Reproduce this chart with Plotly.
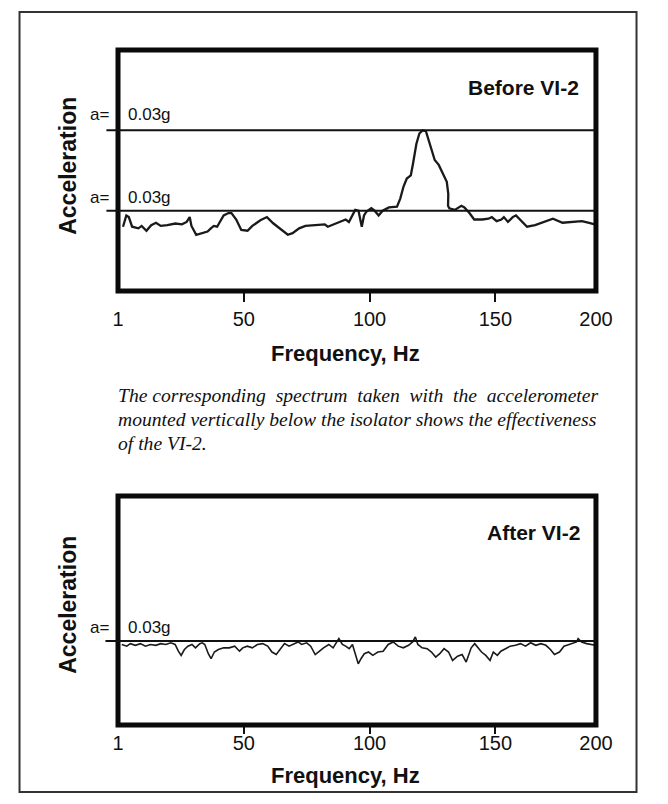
import plotly.graph_objects as go

# ---------------- data ----------------
# Before VI-2 : frequency (Hz) and relative acceleration (lower reference line = 1, peak line = 2)
before_hz = [2.0, 3.3, 4.3, 5.6, 8.1, 9.4, 11.3, 13.2, 15.1, 17.0, 19.6, 22.8, 25.4, 27.3, 28.5, 29.2,
             31.1, 33.6, 35.6, 36.9, 38.1, 39.4, 42.0, 43.9, 45.1, 47.0, 49.0, 51.5, 53.4, 56.6, 59.2,
             61.8, 64.3, 67.5, 69.4, 72.0, 74.5, 78.4, 82.2, 83.4, 87.3, 90.5, 91.8, 93.7, 94.3, 95.6,
             96.9, 97.8, 98.8, 100.7, 102.0, 103.6, 105.2, 107.7, 110.9, 112.2, 113.5, 114.8, 116.4,
             117.3, 118.6, 119.8, 121.1, 122.4, 123.7, 124.6, 125.9, 127.5, 129.2, 130.7, 131.3, 131.2,
             131.7, 133.9, 136.5, 137.7, 139.7, 141.6, 144.8, 147.3, 148.6, 150.5, 152.4, 153.4, 155.0,
             156.9, 158.2, 160.1, 162.6, 165.8, 169.0, 172.9, 176.7, 180.5, 184.4, 186.9, 189.5]
before_acc = [0.80, 0.94, 0.92, 0.80, 0.78, 0.81, 0.75, 0.82, 0.85, 0.81, 0.82, 0.84, 0.83, 0.86, 0.92, 0.81,
              0.70, 0.72, 0.74, 0.78, 0.81, 0.80, 0.94, 0.97, 0.97, 0.89, 0.76, 0.75, 0.81, 0.88, 0.92,
              0.84, 0.78, 0.70, 0.72, 0.78, 0.81, 0.82, 0.83, 0.80, 0.85, 0.89, 0.86, 0.97, 1.01, 1.00,
              0.80, 0.94, 0.99, 1.03, 1.00, 0.94, 1.00, 1.04, 1.05, 1.15, 1.30, 1.40, 1.44,
              1.59, 1.83, 1.96, 2.00, 1.99, 1.85, 1.75, 1.63, 1.57, 1.46, 1.36, 1.21, 1.06,
              1.03, 1.01, 1.06, 1.04, 0.97, 0.89, 0.89, 0.90, 0.92, 0.87, 0.89, 0.92, 0.86,
              0.92, 0.94, 0.88, 0.80, 0.82, 0.86, 0.90, 0.85, 0.86, 0.87, 0.85, 0.83]

# After VI-2
after_hz = [1.5, 3.5, 4.9, 6.9, 8.9, 10.9, 12.9, 15.0, 17.0, 19.0, 21.0, 22.7, 24.0, 25.1, 26.4, 27.8,
            29.4, 30.8, 32.5, 33.5, 34.5, 35.9, 37.0, 38.3, 39.9, 42.0, 44.2, 46.4, 48.3, 49.6, 51.4,
            53.4, 55.4, 57.5, 59.5, 61.2, 62.9, 64.5, 66.2, 68.0, 69.6, 71.6, 73.0, 75.0, 76.6, 78.4,
            80.1, 81.7, 83.8, 85.5, 87.8, 89.2, 90.5, 91.9, 93.2, 94.6, 95.5, 96.6, 97.9, 99.6, 101.3,
            103.3, 105.4, 107.4, 109.4, 111.4, 113.4, 115.5, 117.1, 118.2, 119.2, 120.9, 122.9, 124.6,
            126.3, 127.9, 129.6, 131.4, 133.0, 135.0, 136.8, 138.4, 140.4, 141.8, 143.1, 144.5, 146.2,
            147.9, 149.2, 150.8, 152.2, 153.9, 155.9, 158.0, 160.0, 162.0, 164.0, 166.1, 168.1, 170.1,
            171.9, 173.5, 175.5, 177.3, 179.2, 180.9, 182.3, 182.9, 184.3, 186.3, 188.3, 189.7]
after_acc = [0.96, 0.94, 0.97, 0.95, 0.97, 0.94, 0.96, 0.95, 0.97, 0.96, 0.98, 0.96, 0.88, 0.83, 0.90, 0.94,
             0.96, 0.92, 0.97, 0.98, 0.96, 0.85, 0.79, 0.87, 0.90, 0.92, 0.92, 0.94, 0.88, 0.92, 0.94,
             0.92, 0.96, 0.97, 0.94, 0.87, 0.84, 0.90, 0.97, 0.94, 0.96, 0.99, 0.96, 0.98, 0.94, 0.84,
             0.88, 0.92, 0.96, 0.92, 1.03, 0.96, 0.94, 0.91, 0.96, 0.83, 0.73, 0.79, 0.85, 0.87, 0.83,
             0.87, 0.88, 0.96, 0.99, 0.94, 0.92, 0.95, 0.99, 1.05, 0.96, 0.92, 0.91, 0.87,
             0.81, 0.85, 0.91, 0.87, 0.77, 0.82, 0.84, 0.75, 0.92, 0.97, 0.92, 0.87, 0.83,
             0.77, 0.87, 0.83, 0.88, 0.91, 0.94, 0.95, 0.97, 0.94, 0.98, 0.95, 0.97, 0.95,
             0.90, 0.84, 0.87, 0.94, 0.96, 0.97, 0.99, 1.03, 0.99, 0.97, 0.96, 0.95]

tick_vals = [0, 50, 100, 150, 190]
tick_text = ["1", "50", "100", "150", "200"]
minor_ticks = [50, 100, 150]
ref_before = [2.0, 1.0]
ref_after = [1.0]
ref_label = "0.03g"

caption = ["The corresponding\u00a0 spectrum\u00a0 taken\u00a0 with\u00a0 the\u00a0 accelerometer",
           "mounted vertically below the isolator shows the effectiveness",
           "of the VI-2."]

# ---------------- figure ----------------
W, H = 668, 804
SANS = "Liberation Sans, Arial, sans-serif"
SERIF = "Liberation Serif, Times New Roman, serif"
INK = "#111111"

def px(x):
    return x / W

def py(y):
    return 1 - y / H

xdom = [px(116), px(611)]
ydom_top = [py(291), py(50)]
ydom_bot = [py(725), py(496)]

fig = go.Figure()
fig.add_trace(go.Scatter(x=before_hz, y=before_acc, mode="lines",
                         line=dict(color="#1a1a1a", width=2.3), xaxis="x", yaxis="y",
                         showlegend=False, hoverinfo="skip"))
fig.add_trace(go.Scatter(x=after_hz, y=after_acc, mode="lines",
                         line=dict(color="#1a1a1a", width=1.6), xaxis="x2", yaxis="y2",
                         showlegend=False, hoverinfo="skip"))

def xaxis_cfg(standoff, ticklen):
    return dict(range=[0, 190], domain=xdom, showgrid=False, zeroline=False, showline=False,
                tickmode="array", tickvals=tick_vals, ticktext=tick_text, ticks="",
                ticklabelstandoff=standoff,
                tickfont=dict(family=SANS, size=20, color=INK),
                minor=dict(tickmode="array", tickvals=minor_ticks, ticks="outside",
                           ticklen=ticklen, tickwidth=2, tickcolor=INK, showgrid=False))

fig.update_layout(
    width=W, height=H, margin=dict(l=0, r=0, t=0, b=0),
    paper_bgcolor="white", plot_bgcolor="white",
    xaxis=dict(anchor="y", **xaxis_cfg(14, 10)),
    yaxis=dict(range=[0, 3.0], domain=ydom_top, visible=False, anchor="x"),
    xaxis2=dict(anchor="y2", **xaxis_cfg(4, 8)),
    yaxis2=dict(range=[0, 2.73], domain=ydom_bot, visible=False, anchor="x2"),
)

shapes = []
# outer frame
shapes.append(dict(type="rect", xref="paper", yref="paper", x0=px(14), x1=px(653), y0=py(792), y1=py(12),
                   line=dict(color="#333333", width=2)))
# chart boxes
for xr, yr in [("x domain", "y domain"), ("x2 domain", "y2 domain")]:
    shapes.append(dict(type="rect", xref=xr, yref=yr, x0=0, x1=1, y0=0, y1=1,
                       line=dict(color="#0a0a0a", width=5), layer="above"))
# reference lines (extend a little to the left of the box)
for v in ref_before:
    shapes.append(dict(type="line", xref="paper", yref="y", x0=px(104), x1=xdom[1], y0=v, y1=v,
                       line=dict(color=INK, width=2)))
for v in ref_after:
    shapes.append(dict(type="line", xref="paper", yref="y2", x0=px(103), x1=xdom[1], y0=v, y1=v,
                       line=dict(color=INK, width=2)))
fig.update_layout(shapes=shapes)

ann = []
def text(x, y, s, size, family=SANS, bold=False, italic=False, xanchor="left", angle=0):
    t = s
    if bold:
        t = "<b>" + t + "</b>"
    if italic:
        t = "<i>" + t + "</i>"
    ann.append(dict(x=x, y=y, xref="paper", yref="paper", text=t, showarrow=False,
                    xanchor=xanchor, yanchor="middle", textangle=angle,
                    font=dict(family=family, size=size, color=INK)))

# top chart texts
text(px(596), py(88), "Before VI-2", 21, bold=True, xanchor="right")
text(px(64), py(166), "Acceleration", 23, bold=True, xanchor="center", angle=-90)
text(px(109), py(115), "a=", 17, xanchor="right")
text(px(124), py(115), ref_label, 17)
text(px(109), py(198), "a=", 17, xanchor="right")
text(px(124), py(198), ref_label, 17)
text(px(352), py(353), "Frequency, Hz", 22, bold=True, xanchor="center")

# caption
for i, line in enumerate(caption):
    text(px(114), py(395 + 24 * i), line, 19.6, family=SERIF, italic=True)

# bottom chart texts
text(px(597), py(532), "After VI-2", 21, bold=True, xanchor="right")
text(px(64), py(605), "Acceleration", 23, bold=True, xanchor="center", angle=-90)
text(px(109), py(627), "a=", 17, xanchor="right")
text(px(124), py(627), ref_label, 17)
text(px(352), py(775), "Frequency, Hz", 22, bold=True, xanchor="center")

fig.update_layout(annotations=ann)

fig.write_html("out.html", config={"displayModeBar": False},
               post_script="document.body.style.margin='0';document.body.style.overflow='hidden';")
